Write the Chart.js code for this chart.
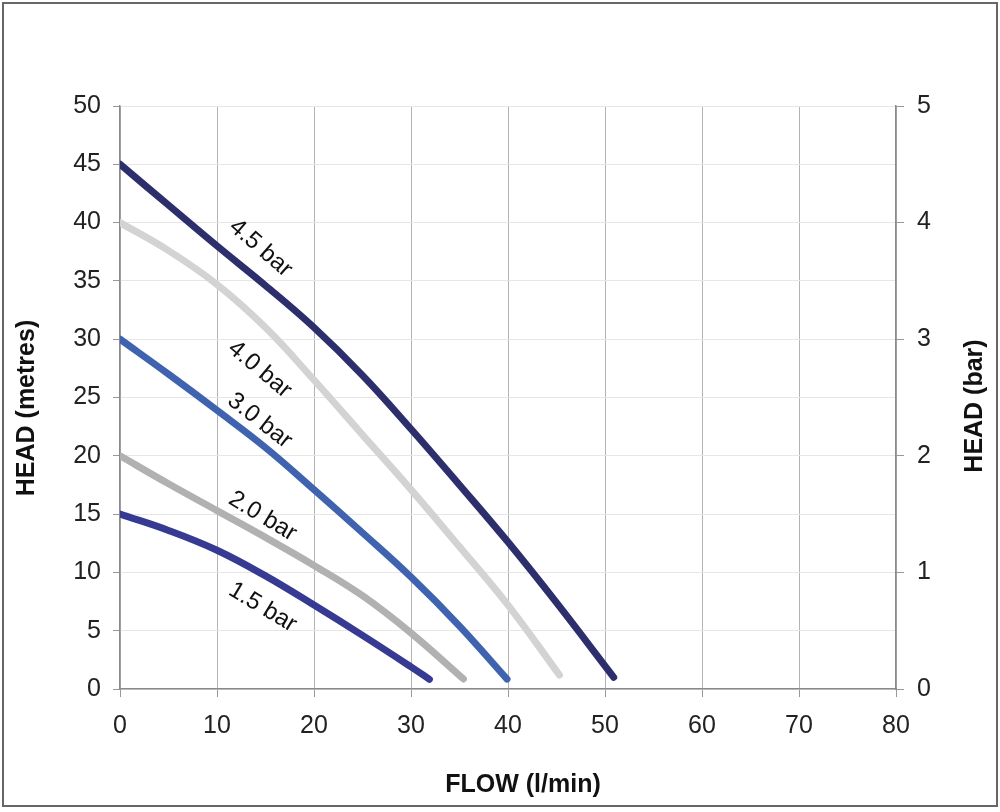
<!DOCTYPE html>
<html>
<head>
<meta charset="utf-8">
<script src="https://cdn.jsdelivr.net/npm/chart.js@4"></script>
<style>
  html, body { margin: 0; padding: 0; background: #fff; }
  #wrap { width: 1000px; height: 812px; position: relative; }
</style>
</head>
<body>
<div id="wrap"><canvas id="pump"></canvas></div>
<script>
// pump curves: flow (l/min) vs head (metres)
const flow45 = [0, 5, 10, 15, 20, 25, 30, 35, 40, 45, 50.9];
const head45 = [45, 41.5, 38.0, 34.6, 31.0, 26.9, 22.3, 17.5, 12.6, 7.4, 1];
const flow40 = [0, 5, 10, 15, 20, 25, 30, 35, 40, 45.3];
const head40 = [40, 37.6, 34.7, 31.0, 26.5, 21.8, 17.1, 12.2, 7.2, 1.2];
const flow30 = [0, 5, 10, 15, 20, 25, 30, 35, 39.9];
const head30 = [30, 27, 23.9, 20.7, 17.1, 13.4, 9.6, 5.4, 0.85];
const flow20 = [0, 5, 10, 15, 20, 25, 30, 35.4];
const head20 = [20, 17.6, 15.3, 13.0, 10.6, 8.0, 4.8, 0.86];
const flow15 = [0, 5, 10, 15, 20, 25, 30, 31.9];
const head15 = [15, 13.6, 11.9, 9.7, 7.2, 4.6, 1.9, 0.83];
const curveNames = ['4.5 bar', '4.0 bar', '3.0 bar', '2.0 bar', '1.5 bar'];

const FONT = "'Liberation Sans', Arial, sans-serif";

function pts(xs, ys) {
  return xs.map((x, i) => ({ x: x, y: ys[i] }));
}

function curve(name, xs, ys, color) {
  return {
    label: name,
    data: pts(xs, ys),
    borderColor: color,
    borderWidth: 7,
    borderCapStyle: 'round',
    borderJoinStyle: 'round',
    pointRadius: 0,
    tension: 0.4,
    fill: false
  };
}

const frame = {
  id: 'frame',
  beforeDraw(chart) {
    const c = chart.ctx;
    c.save();
    c.fillStyle = '#fff';
    c.fillRect(0, 0, chart.width, chart.height);
    c.strokeStyle = '#666';
    c.lineWidth = 2;
    c.strokeRect(3, 3, 994, 803);
    c.restore();
  }
};

const titles = {
  id: 'titles',
  afterDraw(chart) {
    const c = chart.ctx;
    c.save();
    c.fillStyle = '#111';
    c.font = 'bold 25px ' + FONT;
    c.textAlign = 'center';
    c.textBaseline = 'middle';
    c.fillText('FLOW (l/min)', 523, 785);
    c.save();
    c.translate(27, 408);
    c.rotate(-Math.PI / 2);
    c.fillText('HEAD (metres)', 0, 0);
    c.restore();
    c.save();
    c.translate(975, 406);
    c.rotate(-Math.PI / 2);
    c.fillText('HEAD (bar)', 0, 0);
    c.restore();
    c.restore();
  }
};

// rotated labels sitting on each curve, anchored in data units
const curveLabels = {
  id: 'curveLabels',
  afterDatasetsDraw(chart, args, opts) {
    const c = chart.ctx;
    const xs = chart.scales.x, ys = chart.scales.y;
    c.save();
    c.fillStyle = '#111';
    c.font = '24px ' + FONT;
    c.textAlign = 'center';
    c.textBaseline = 'middle';
    opts.anchors.forEach((a, i) => {
      c.save();
      c.translate(xs.getPixelForValue(a[0]), ys.getPixelForValue(a[1]));
      c.rotate(a[2] * Math.PI / 180);
      c.fillText(curveNames[i], 0, 0);
      c.restore();
    });
    c.restore();
  }
};

new Chart(document.getElementById('pump'), {
  type: 'line',
  data: {
    datasets: [
      curve(curveNames[0], flow45, head45, '#2d2e6c'),
      curve(curveNames[1], flow40, head40, '#d3d3d3'),
      curve(curveNames[2], flow30, head30, '#4063b0'),
      curve(curveNames[3], flow20, head20, '#b1b1b1'),
      curve(curveNames[4], flow15, head15, '#363a92')
    ]
  },
  options: {
    responsive: true,
    maintainAspectRatio: false,
    animation: false,
    devicePixelRatio: 1,
    layout: { padding: { top: 106, left: 0, right: 0, bottom: 0 } },
    plugins: {
      legend: { display: false },
      tooltip: { enabled: false },
      curveLabels: {
        anchors: [
          [14.5, 37.8, 41],
          [14.4, 27.4, 40],
          [14.4, 23.0, 38],
          [14.7, 14.8, 31],
          [14.7, 7.0, 31]
        ]
      }
    },
    scales: {
      x: {
        type: 'linear',
        min: 0,
        max: 80,
        afterFit: (s) => { s.height = 123; },
        ticks: { stepSize: 10, color: '#222', font: { family: FONT, size: 25 }, padding: 14 },
        grid: { color: '#b4b4b4', lineWidth: 1, tickLength: 8, tickColor: '#999' },
        border: { color: '#8a8a8a', width: 1.5 }
      },
      y: {
        position: 'left',
        min: 0,
        max: 50,
        afterFit: (s) => { s.width = 120; },
        ticks: { stepSize: 5, color: '#222', font: { family: FONT, size: 25 }, padding: 12 },
        grid: { color: '#e6e6e6', lineWidth: 1, tickLength: 7, tickColor: '#999' },
        border: { color: '#8a8a8a', width: 1.5 }
      },
      y2: {
        position: 'right',
        min: 0,
        max: 5,
        afterFit: (s) => { s.width = 104; },
        ticks: { stepSize: 1, color: '#222', font: { family: FONT, size: 25 }, padding: 13 },
        grid: { drawOnChartArea: false, tickLength: 8, tickColor: '#999' },
        border: { color: '#8a8a8a', width: 1.5 }
      }
    }
  },
  plugins: [frame, curveLabels, titles]
});
</script>
</body>
</html>
